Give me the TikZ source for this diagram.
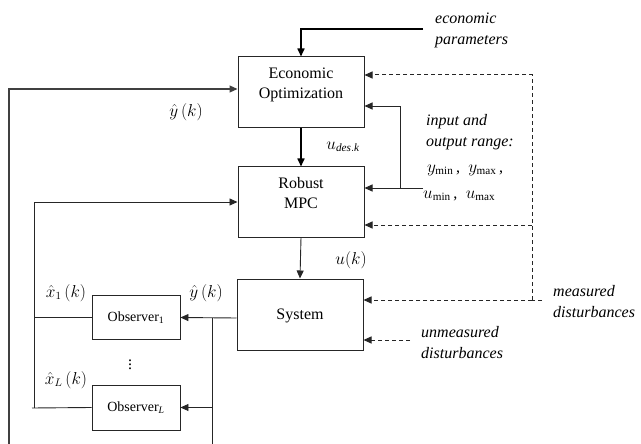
\documentclass[tikz,border=0pt]{standalone}
\usepackage{fontspec}
\setmainfont{Liberation Serif}
\usetikzlibrary{arrows.meta}
\begin{document}
\begin{tikzpicture}[x=1pt,y=-1pt,
  blk/.style={draw=black!85,line width=1pt,minimum width=126pt,minimum height=71pt,inner sep=0pt},
  obs/.style={draw=black!85,line width=0.9pt,minimum width=88pt,minimum height=44pt,inner sep=0pt,font=\fontsize{14}{16}\selectfont},
  btxt/.style={align=center,font=\fontsize{16}{19.5}\selectfont,inner sep=0pt},
  itl/.style={align=left,anchor=west,font=\fontsize{16}{21}\selectfont\itshape,inner sep=0pt},
  mlab/.style={font=\fontsize{16}{19}\selectfont,inner sep=0pt},
  conn/.style={draw=black!85,line width=0.9pt},
  thick conn/.style={draw=black,line width=1.6pt},
  arr/.style={-{Triangle[length=8pt,width=7pt]}},
  dsh/.style={draw=black!85,line width=1pt,dash pattern=on 4pt off 3pt}
]
\useasboundingbox (0,0) rectangle (641,444);
% blocks
\node[blk] (econ) at (301,92.5) {};
\node[btxt] (econt) at (301,85) {Economic\\Optimization};
\node[blk,minimum height=70pt] (mpc) at (301,202) {};
\node[btxt] (mpct) at (301,193) {Robust\\MPC};
\node[blk] (sys) at (300,314.5) {};
\node[btxt] (syst) at (300,316) {System};
\node[obs] (obs1) at (136,317.5) {Observer\textsubscript{1}};
\node[obs,minimum height=45pt] (obsL) at (136,407.5) {Observer\textsubscript{\itshape L}};
% coordinates
\coordinate (ep) at (423,29);
\coordinate (fb1) at (9,444);
\coordinate (rg) at (423,188);
\coordinate (rgv) at (400,188);
\coordinate (md) at (542,300);
\coordinate (mdv) at (532,300);
\coordinate (um) at (410,340);
\coordinate (yv) at (212,318);
\coordinate (yb) at (212,444);
\coordinate (ov) at (34,408);
\coordinate (ovl) at (32,408);
% solid connectors
\draw[thick conn,arr] (ep) -| (econ.north);
\draw[thick conn,arr] (econ.south) -- (mpc.north);
\draw[conn,arr] (mpc.south) -- (sys.north);
\draw[conn,arr,draw=black!75,line width=1.2pt] (fb1) |- ([yshift=3.5pt]econ.west);
\draw[conn,arr] (rg) -- ([yshift=14pt]mpc.east);
\draw[conn,arr] (rgv) |- ([yshift=-13.5pt]econ.east);
\draw[conn,arr] ([yshift=-3.5pt]sys.west) -- (obs1.east);
\draw[conn] (yv) -- (yb);
\draw[conn,arr] (yv |- obsL.east) -- (obsL.east);
\draw[conn] (obs1.west) -- (ov |- obs1.west);
\draw[conn] (obsL.west) -- (ovl);
\draw[conn,arr] (ov) |- (mpc.west);
% dashed connectors
\draw[dsh] (md) -- (mdv);
\draw[dsh,arr] (mdv) |- ([yshift=17.5pt]econ.east);
\draw[dsh,arr] (mdv |- 0,225) -- ([yshift=-23pt]mpc.east);
\draw[dsh,arr] (mdv) -- ([yshift=14.5pt]sys.east);
\draw[dsh,arr] (um) -- ([yshift=-25.5pt]sys.east);
% labels
\node[itl] (lep) at (435,30.5) {economic\\parameters};
\node[itl] (lio) at (426,132.5) {input and\\output range:};
\node[mlab,anchor=west] (lyr) at (427,170) {$y_{\min}$\,, \;$y_{\max}$\,,};
\node[mlab,anchor=west] (lur) at (423,196) {$u_{\min}$\,, \;$u_{\max}$};
\node[itl] (lmd) at (553,302) {measured\\disturbances};
\node[itl] (lum) at (421,342.5) {unmeasured\\disturbances};
\node[mlab] (lud) at (343,147) {$u_{\mathit{des.k}}$};
\node[mlab] (luk) at (351,260) {$u(k)$};
\node[mlab] (ly1) at (186,112) {$\hat{y}\,(k)$};
\node[mlab] (ly2) at (206,293) {$\hat{y}\,(k)$};
\node[mlab] (lx1) at (66,293) {$\hat{x}_1\,(k)$};
\node[mlab] (lxL) at (66,380) {$\hat{x}_L\,(k)$};
\node[mlab] (dots) at (130,362) {$\vdots$};
\end{tikzpicture}
\end{document}
